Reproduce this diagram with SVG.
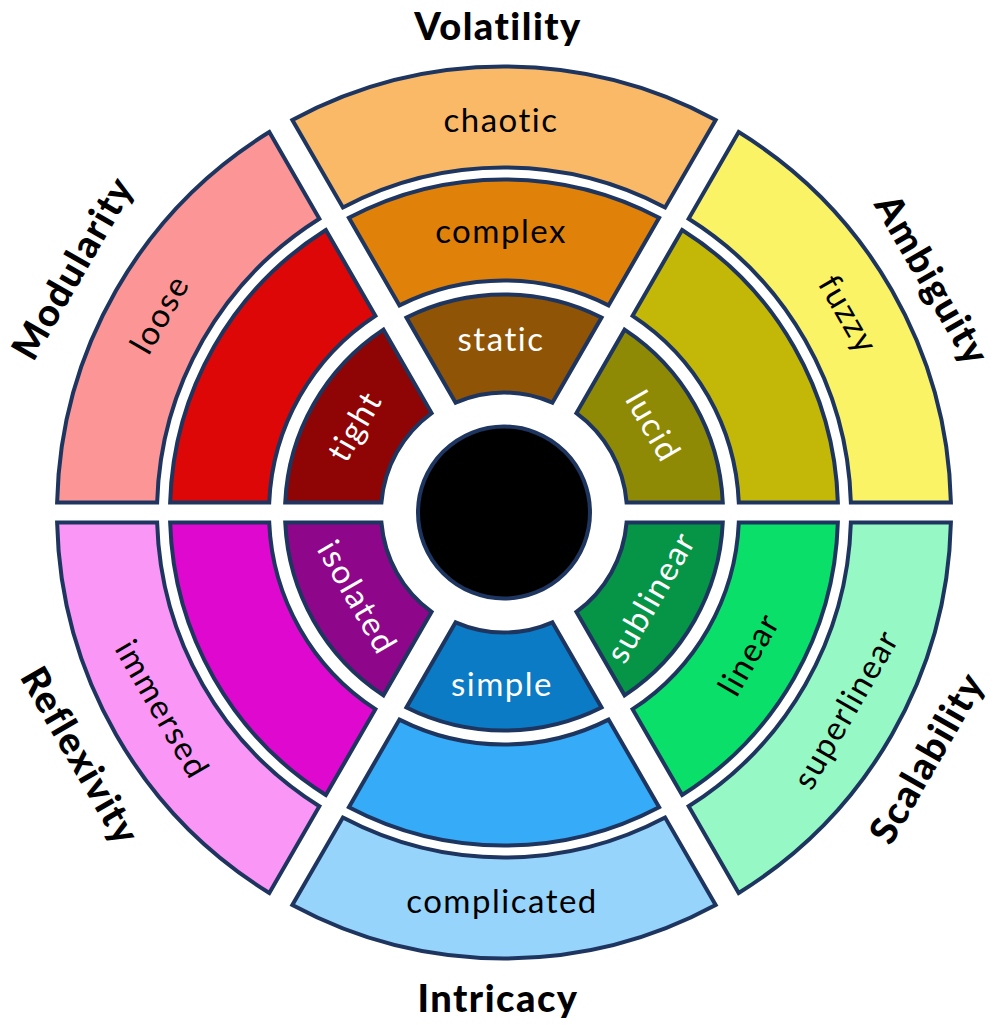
<svg xmlns="http://www.w3.org/2000/svg" width="1000" height="1025" viewBox="0 0 1000 1025">
<style>
.seg{stroke:#1e3560;stroke-width:4;stroke-linejoin:miter}
.lbl{font-family:Lato,"Open Sans","Liberation Sans",sans-serif;font-size:33px;letter-spacing:1.5px;text-anchor:middle}
.dk{fill:#000}
.lt{fill:#fff}
.cat{font-family:Lato,"Liberation Sans",sans-serif;font-weight:900;font-size:38px;letter-spacing:1.5px;text-anchor:middle;fill:#000}
</style>
<rect width="1000" height="1025" fill="#fff"/>
<g id="volatility">
  <g id="chaotic"><path class="seg" fill="#F9B966" d="M 292.35,119.93 A 446 446 0 0 1 715.65,119.93 L 665.12,207.45 A 345 345 0 0 0 342.88,207.45 Z"/><text class="lbl dk" x="501" y="132">chaotic</text></g>
  <g id="complex"><path class="seg" fill="#E0820A" d="M 348.89,217.84 A 333 333 0 0 1 659.11,217.84 L 608.56,305.40 A 232 232 0 0 0 399.44,305.40 Z"/><text class="lbl dk" x="501" y="243">complex</text></g>
  <g id="static"><path class="seg" fill="#8F5405" d="M 406.45,317.55 A 218 218 0 0 1 601.55,317.55 L 552.39,402.69 A 120 120 0 0 0 455.61,402.69 Z"/><text class="lbl lt" x="501" y="351">static</text></g>
  <text class="cat" x="498" y="40">Volatility</text>
</g>
<g id="intricacy">
  <g id="simple"><path class="seg" fill="#0A7BC4" d="M 601.55,707.45 A 218 218 0 0 1 406.45,707.45 L 455.61,622.31 A 120 120 0 0 0 552.39,622.31 Z"/><text class="lbl lt" x="502" y="696">simple</text></g>
  <g id="intricacy-mid"><path class="seg" fill="#36ACF9" d="M 659.11,807.16 A 333 333 0 0 1 348.89,807.16 L 399.44,719.60 A 232 232 0 0 0 608.56,719.60 Z"/></g>
  <g id="complicated"><path class="seg" fill="#96D4FC" d="M 715.65,905.07 A 446 446 0 0 1 292.35,905.07 L 342.88,817.55 A 345 345 0 0 0 665.12,817.55 Z"/><text class="lbl dk" x="502" y="913">complicated</text></g>
  <text class="cat" x="498" y="1012">Intricacy</text>
</g>
<g id="ambiguity">
  <g id="lucid"><path class="seg" fill="#8F8A05" d="M 626.59,502.5 L 722.77,502.5 A 219 219 0 0 0 624.57,329.68 L 576.42,413.08 A 123 123 0 0 1 626.59,502.5 Z"/><text class="lbl lt" transform="translate(652,427) rotate(60)" x="0" y="10">lucid</text></g>
  <g id="ambiguity-mid"><path class="seg" fill="#C3B808" d="M 738.79,502.5 L 837.85,502.5 A 334 334 0 0 0 682.14,229.97 L 632.58,315.80 A 235 235 0 0 1 738.79,502.5 Z"/></g>
  <g id="fuzzy"><path class="seg" fill="#FAF366" d="M 850.86,502.5 L 950.89,502.5 A 447 447 0 0 0 738.67,132.06 L 688.64,218.71 A 347 347 0 0 1 850.86,502.5 Z"/><text class="lbl dk" transform="translate(847,315) rotate(60)" x="0" y="10">fuzzy</text></g>
  <text class="cat" transform="translate(932,280) rotate(60)" x="0" y="13">Ambiguity</text>
</g>
<g id="scalability">
  <g id="sublinear"><path class="seg" fill="#069447" d="M 626.59,522.5 L 722.77,522.5 A 219 219 0 0 1 624.57,695.32 L 576.42,611.92 A 123 123 0 0 0 626.59,522.5 Z"/><text class="lbl lt" transform="translate(652,598) rotate(-60)" x="0" y="10">sublinear</text></g>
  <g id="linear"><path class="seg" fill="#0ADF6A" d="M 738.79,522.5 L 837.85,522.5 A 334 334 0 0 1 682.14,795.03 L 632.58,709.20 A 235 235 0 0 0 738.79,522.5 Z"/><text class="lbl dk" transform="translate(750,655) rotate(-60)" x="0" y="10">linear</text></g>
  <g id="superlinear"><path class="seg" fill="#96F9C5" d="M 850.86,522.5 L 950.89,522.5 A 447 447 0 0 1 738.67,892.94 L 688.64,806.29 A 347 347 0 0 0 850.86,522.5 Z"/><text class="lbl dk" transform="translate(847,710) rotate(-60)" x="0" y="10">superlinear</text></g>
  <text class="cat" transform="translate(927,758) rotate(-60)" x="0" y="13">Scalability</text>
</g>
<g id="modularity">
  <g id="tight"><path class="seg" fill="#8F0404" d="M 381.41,502.5 L 285.23,502.5 A 219 219 0 0 1 383.43,329.68 L 431.58,413.08 A 123 123 0 0 0 381.41,502.5 Z"/><text class="lbl lt" transform="translate(356,427) rotate(-60)" x="0" y="10">tight</text></g>
  <g id="modularity-mid"><path class="seg" fill="#DE0707" d="M 269.21,502.5 L 170.15,502.5 A 334 334 0 0 1 325.86,229.97 L 375.42,315.80 A 235 235 0 0 0 269.21,502.5 Z"/></g>
  <g id="loose"><path class="seg" fill="#FC9696" d="M 157.14,502.5 L 57.11,502.5 A 447 447 0 0 1 269.33,132.06 L 319.36,218.71 A 347 347 0 0 0 157.14,502.5 Z"/><text class="lbl dk" transform="translate(161,315) rotate(-60)" x="0" y="10">loose</text></g>
  <text class="cat" transform="translate(73,268) rotate(-60)" x="0" y="13">Modularity</text>
</g>
<g id="reflexivity">
  <g id="isolated"><path class="seg" fill="#8E0689" d="M 381.41,522.5 L 285.23,522.5 A 219 219 0 0 0 383.43,695.32 L 431.58,611.92 A 123 123 0 0 1 381.41,522.5 Z"/><text class="lbl lt" transform="translate(356,598) rotate(60)" x="0" y="10">isolated</text></g>
  <g id="reflexivity-mid"><path class="seg" fill="#DE08CF" d="M 269.21,522.5 L 170.15,522.5 A 334 334 0 0 0 325.86,795.03 L 375.42,709.20 A 235 235 0 0 1 269.21,522.5 Z"/></g>
  <g id="immersed"><path class="seg" fill="#FA96F5" d="M 157.14,522.5 L 57.11,522.5 A 447 447 0 0 0 269.33,892.94 L 319.36,806.29 A 347 347 0 0 1 157.14,522.5 Z"/><text class="lbl dk" transform="translate(161,710) rotate(60)" x="0" y="10">immersed</text></g>
  <text class="cat" transform="translate(80,756) rotate(60)" x="0" y="13">Reflexivity</text>
</g>
<g id="core"><circle cx="504" cy="512.5" r="86" fill="#000" stroke="#1e3560" stroke-width="4"/></g>
<g id="connectors"/>
</svg>
